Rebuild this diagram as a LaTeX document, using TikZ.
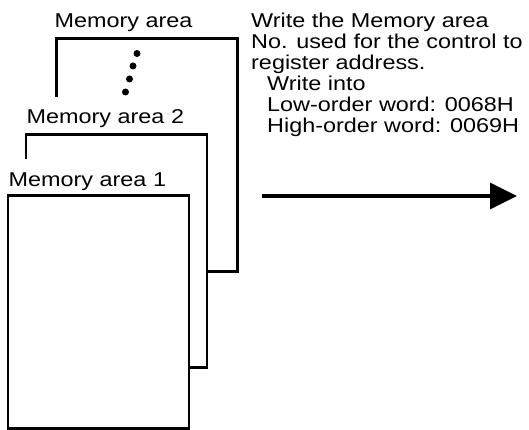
\documentclass[tikz,border=0pt]{standalone}
\usepackage{fontspec}
\setmainfont[FakeStretch=1.17]{Liberation Sans}
\usetikzlibrary{arrows.meta,positioning}

\begin{document}
\begin{tikzpicture}[
    x=1pt, y=-1pt,
    >={Triangle[length=27pt,width=26pt]},
    % stacked memory area sheets
    sheet/.style={rectangle, draw, line width=2.2pt, fill=white, minimum width=181pt, minimum height=233pt, inner sep=0},
    tag/.style={fill=white, inner sep=0, anchor=base west, text height=27pt, text depth=9pt, font=\fontsize{20}{21}\selectfont},
    note/.style={align=left, inner sep=0, anchor=north west, font=\fontsize{20}{21}\selectfont},
    dot/.style={circle, fill=black, minimum size=7pt, inner sep=0}
  ]
  \useasboundingbox (0,0) rectangle (529,430);

  % Back sheet
  \node[sheet] (area3) at (147,155) {};
  \node[tag] (tag3) at ([xshift=-1pt,yshift=10pt]area3.north west) {Memory area};
  \foreach \x/\y [count=\i] in {137/53.5,133/66,129.5/79,125.5/92}
    \node[dot] (dot\i) at (\x,\y) {};

  % Middle sheet
  \node[tag] (tag2) at (26.5,124) {Memory area 2};
  \node[sheet] (area2) at (116.5,251) {};

  % Front sheet
  \node[tag] (tag1) at (8.5,186) {Memory area 1};
  \node[sheet] (area1) at (98.5,312) {};

  % Instruction text
  \node[note] (note) at (251,12.5) {Write the Memory area\\No. used for the control to\\register address.\\
    \hspace*{16pt}Write into\\\hspace*{16pt}Low-order word: 0068H\\\hspace*{16pt}High-order word: 0069H};

  % Write arrow
  \coordinate (arrow tail) at (262,196);
  \coordinate (arrow head) at (517,196);
  \draw[->, line width=3.5pt] (arrow tail) -- (arrow head);
\end{tikzpicture}
\end{document}
